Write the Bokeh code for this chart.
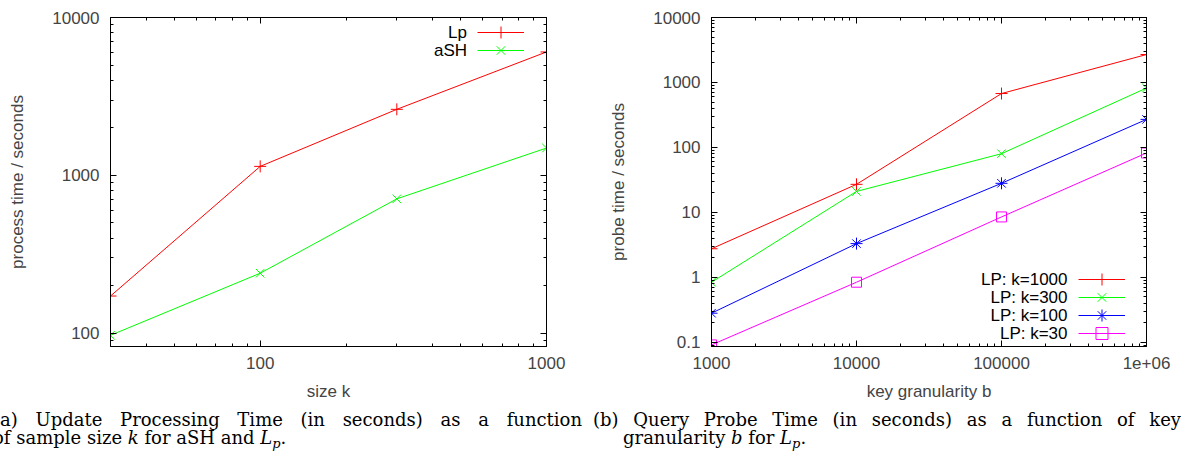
from bokeh.plotting import figure
from bokeh.models import FixedTicker, LogAxis, Legend, LegendItem, Div, Range1d, Label
from bokeh.layouts import row, column
from bokeh.embed import file_html
from bokeh.resources import INLINE

# ---------------- data ----------------
sample_size_k = [30, 100, 300, 1000]
lp_process_time = [172, 1140, 2620, 6050]
ash_process_time = [97, 240, 710, 1490]

key_granularity_b = [1000, 10000, 100000, 1000000]
probe_k1000 = [2.75, 27, 675, 2690]
probe_k300 = [0.84, 21, 80, 820]
probe_k100 = [0.28, 3.3, 28, 270]
probe_k30 = [0.091, 0.84, 8.5, 82]

left_x_ticks = [100, 1000]
left_x_labels = ["100", "1000"]
left_y_ticks = [100, 1000, 10000]
left_y_labels = ["100", "1000", "10000"]
right_x_ticks = [1000, 10000, 100000, 1000000]
right_x_labels = ["1000", "10000", "100000", "1e+06"]
right_y_ticks = [0.1, 1, 10, 100, 1000, 10000]
right_y_labels = ["0.1", "1", "10", "100", "1000", "10000"]

left_legend_names = ["Lp", "aSH"]
right_legend_names = ["LP: k=1000", "LP: k=300", "LP: k=100", "LP: k=30"]

SUB = "<sub style='font-size:13px;line-height:0;vertical-align:-4px'>p</sub>"
caption_a_line1 = "(a) Update Processing Time (in seconds) as a function"
caption_a_line2 = f"of sample size <i>k</i> for aSH and <i>L{SUB}</i>."
caption_b_line1 = "(b) Query Probe Time (in seconds) as a function of key"
caption_b_line2 = f"granularity <i>b</i> for <i>L{SUB}</i>."

SANS = "Liberation Sans"
FS = "17px"
ROW = 18        # legend row pitch
GLYPH_H = 30    # legend glyph box (marker size = 0.4 * box)
FRAME_H = 329


def minor_ticks(lo, hi):
    out = []
    e = -3
    while 10 ** e <= hi:
        for m in range(2, 10):
            v = m * 10.0 ** e
            if lo < v < hi:
                out.append(v)
        e += 1
    return out


def style_axis(ax, ticks, labels, minors, show_labels, label_standoff):
    ax.ticker = FixedTicker(ticks=ticks, minor_ticks=minors)
    if show_labels:
        ax.major_label_overrides = {t: l for t, l in zip(ticks, labels)}
        ax.major_label_text_font = SANS
        ax.major_label_text_font_size = FS
        ax.major_label_standoff = label_standoff
    else:
        ax.major_label_overrides = {t: "" for t in ticks}
        ax.major_label_text_font_size = "0px"
        ax.major_label_standoff = 0
    ax.major_tick_in = 6
    ax.major_tick_out = 0
    ax.minor_tick_in = 3
    ax.minor_tick_out = 0
    ax.axis_line_color = "black"
    ax.axis_line_width = 1
    ax.major_tick_line_color = "black"
    ax.minor_tick_line_color = "black"
    ax.axis_label_text_font = SANS
    ax.axis_label_text_font_size = FS
    ax.axis_label_text_font_style = "normal"


def make_fig(width, xr, yr, mb_left, mb_right, xt, xl, yt, yl, xlabel, ylabel):
    p = figure(width=width, height=408, x_axis_type="log", y_axis_type="log",
               x_range=Range1d(*xr), y_range=Range1d(*yr),
               output_backend="svg", toolbar_location=None,
               min_border_left=mb_left, min_border_right=mb_right,
               min_border_top=17, min_border_bottom=62)
    p.xgrid.visible = False
    p.ygrid.visible = False
    p.outline_line_color = "black"
    p.outline_line_width = 1
    xmin = minor_ticks(*xr)
    ymin = minor_ticks(*yr)
    style_axis(p.xaxis[0], xt, xl, xmin, True, 10)
    p.xaxis[0].axis_label = xlabel
    p.xaxis[0].axis_label_standoff = 10
    style_axis(p.yaxis[0], yt, yl, ymin, True, 11)
    p.yaxis[0].axis_label = ylabel
    p.yaxis[0].axis_label_standoff = 22
    top = LogAxis()
    style_axis(top, xt, xl, xmin, False, 0)
    p.add_layout(top, "above")
    right = LogAxis()
    style_axis(right, yt, yl, ymin, False, 0)
    p.add_layout(right, "right")
    return p


def series(p, x, y, color, marker, size):
    rl = p.line(x, y, line_color=color, line_width=1)
    rm = p.scatter(x, y, marker=marker, size=size, line_color=color,
                   fill_color=None, line_width=1)
    return [rl, rm]


def add_legend(p, names, renderer_groups, first_row_from_top, glyph_x, text_x):
    # one single-entry legend per row, so that the sample marker keeps its size
    for i, (name, rs) in enumerate(zip(names, renderer_groups)):
        row_from_top = first_row_from_top + i * ROW
        lg = Legend(items=[LegendItem(label="", renderers=rs)],
                    location=(glyph_x, FRAME_H - row_from_top - GLYPH_H / 2),
                    padding=0, margin=0, spacing=0,
                    border_line_color=None, background_fill_alpha=0,
                    glyph_width=47, glyph_height=GLYPH_H, label_height=GLYPH_H,
                    label_width=0, label_standoff=0,
                    label_text_font=SANS, label_text_font_size="14px")
        p.add_layout(lg)
        p.add_layout(Label(x=text_x, y=FRAME_H - row_from_top,
                           x_units="screen", y_units="screen",
                           text=name, text_align="right", text_baseline="middle",
                           text_font=SANS, text_font_size=FS, text_color="black"))


# ---------------- left plot ----------------
p1 = make_fig(588, (30, 1000), (82.4, 10000), 110, 42,
              left_x_ticks, left_x_labels, left_y_ticks, left_y_labels,
              "size k", "process time / seconds")
r_lp = series(p1, sample_size_k, lp_process_time, "#ff0000", "cross", 12)
r_ash = series(p1, sample_size_k, ash_process_time, "#00ff00", "x", 12)
add_legend(p1, left_legend_names, [r_lp, r_ash], 14.5, 367, 356.5)

# ---------------- right plot ----------------
p2 = make_fig(593, (1000, 1000000), (0.086, 10000), 123, 35,
              right_x_ticks, right_x_labels, right_y_ticks, right_y_labels,
              "key granularity b", "probe time / seconds")
r1 = series(p2, key_granularity_b, probe_k1000, "#ff0000", "cross", 12)
r2 = series(p2, key_granularity_b, probe_k300, "#00ff00", "x", 12)
r3 = series(p2, key_granularity_b, probe_k100, "#0000ff", "asterisk", 12)
r4 = series(p2, key_granularity_b, probe_k30, "#ff00ff", "square", 10)
add_legend(p2, right_legend_names, [r1, r2, r3, r4], 262.4, 367, 356)

# ---------------- captions ----------------
CAP = ("font-family:'DejaVu Serif',serif;font-size:18px;line-height:18px;"
       "color:#000;padding-top:3px;")
html_a = (f"<div style=\"{CAP}margin-left:-7px;width:589px\">"
          f"<div style='text-align:justify;text-align-last:justify'>{caption_a_line1}</div>"
          f"<div>{caption_a_line2}</div></div>")
html_b = (f"<div style=\"{CAP}width:588px\">"
          f"<div style='text-align:justify;text-align-last:justify'>{caption_b_line1}</div>"
          f"<div style='padding-left:30px'>{caption_b_line2}</div></div>")
d1 = Div(text=html_a, width=593, height=48, margin=0)
d2 = Div(text=html_b, width=588, height=48, margin=0)

layout = column(row(p1, p2), row(d1, d2))

open("out.html", "w").write(file_html(layout, INLINE))
